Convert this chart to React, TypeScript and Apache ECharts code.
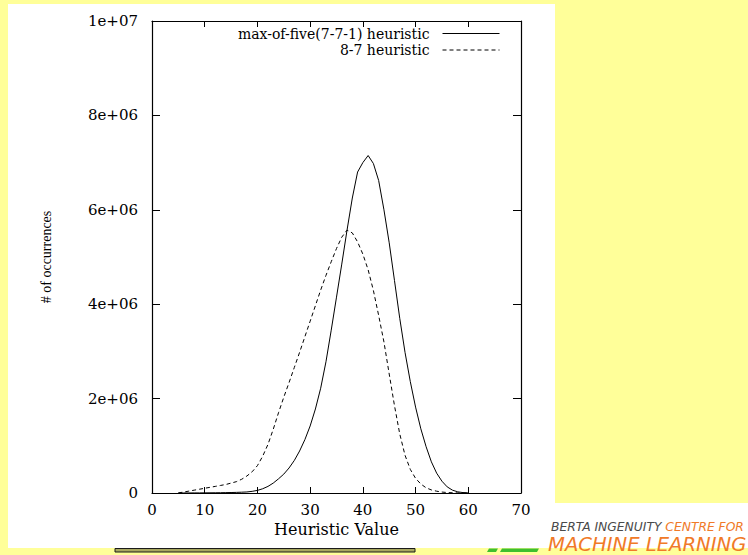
import React, { useEffect, useRef } from "react";
import * as echarts from "echarts";

// Heuristic values (x) and number of occurrences for each heuristic
const heuristicValues = [
  5, 6, 7, 8, 9, 10, 11, 12, 13, 14, 15, 16, 17, 18, 19, 20, 21, 22, 23, 24,
  25, 26, 27, 28, 29, 30, 31, 32, 33, 34, 35, 36, 37, 38, 39, 40, 41, 42, 43, 44,
  45, 46, 47, 48, 49, 50, 51, 52, 53, 54, 55, 56, 57, 58, 59, 60,
];

const maxOfFive = [
  0, 1000, 1000, 2000, 2000, 3000, 4000, 5000, 6000, 8000,
  10000, 13000, 17000, 22000, 35000, 55000, 90000, 140000, 210000, 300000,
  400000, 530000, 690000, 890000, 1130000, 1420000, 1780000, 2220000, 2780000, 3450000,
  4150000, 4850000, 5570000, 6250000, 6800000, 7000000, 7150000, 6980000, 6620000, 6000000,
  5300000, 4500000, 3700000, 2980000, 2360000, 1820000, 1360000, 980000, 660000, 420000,
  250000, 130000, 60000, 25000, 8000, 2000,
];

const eightSeven = [
  2000, 20000, 40000, 60000, 80000, 100000, 120000, 140000, 160000, 180000,
  210000, 240000, 290000, 360000, 450000, 580000, 780000, 1030000, 1350000, 1700000,
  2030000, 2340000, 2660000, 2980000, 3310000, 3640000, 3970000, 4300000, 4610000, 4900000,
  5180000, 5420000, 5570000, 5510000, 5320000, 5060000, 4730000, 4290000, 3760000, 3200000,
  2520000, 1850000, 1250000, 800000, 500000, 310000, 190000, 110000, 65000, 38000,
  20000, 10000, 5000, 2000, 1000, 0,
];

const seriesNames = ["max-of-five(7-7-1) heuristic", "8-7 heuristic"];
const yTickLabels = ["0", "2e+06", "4e+06", "6e+06", "8e+06", "1e+07"];

const SERIF = "'DejaVu Serif', serif";
const LOGO_FONT = "'DejaVu Sans', sans-serif";

export default function App() {
  const ref = useRef<HTMLDivElement>(null);

  useEffect(() => {
    if (!ref.current) return;
    const chart = echarts.init(ref.current, undefined, { renderer: "svg" });

    const axisLine = { show: true, onZero: false, lineStyle: { color: "#000", width: 1.2 } };
    const tickStyle = { color: "#000", width: 1 };

    const legendBase = {
      right: 248,
      padding: 0,
      align: "right" as const,
      itemWidth: 57,
      itemHeight: 12,
      selectedMode: false,
      itemStyle: { opacity: 0 },
      lineStyle: { width: 1 },
      textStyle: {
        fontFamily: SERIF,
        fontSize: 14,
        lineHeight: 12,
        color: "#000",
        padding: [0, 8, 0, 0],
      },
    };

    chart.setOption({
      animation: false,
      backgroundColor: "#ffff99",
      grid: { left: 152, top: 21, right: 227, bottom: 62, show: false },
      legend: [
        { ...legendBase, top: 26.5, data: [seriesNames[0]] },
        { ...legendBase, top: 43, data: [seriesNames[1]] },
      ],
      xAxis: [
        {
          type: "value",
          position: "bottom",
          min: 0,
          max: 70,
          interval: 10,
          axisLine,
          axisTick: { show: true, inside: true, length: 6, lineStyle: tickStyle },
          axisLabel: { fontFamily: SERIF, fontSize: 15, color: "#000", margin: 9 },
          splitLine: { show: false },
          name: "Heuristic Value",
          nameLocation: "middle",
          nameGap: 27,
          nameTextStyle: { fontFamily: SERIF, fontSize: 16, color: "#000" },
        },
        {
          type: "value",
          position: "top",
          min: 0,
          max: 70,
          interval: 10,
          axisLine,
          axisTick: { show: true, inside: true, length: 6, lineStyle: tickStyle },
          axisLabel: { show: false },
          splitLine: { show: false },
        },
      ],
      yAxis: [
        {
          type: "value",
          position: "left",
          min: 0,
          max: 10000000,
          interval: 2000000,
          axisLine,
          axisTick: { show: true, inside: true, length: 8, lineStyle: tickStyle },
          axisLabel: {
            fontFamily: SERIF,
            fontSize: 15,
            color: "#000",
            margin: 14,
            formatter: (v: number) => yTickLabels[Math.round(v / 2000000)],
          },
          splitLine: { show: false },
          name: "# of occurrences",
          nameLocation: "middle",
          nameRotate: 90,
          nameGap: 99,
          nameTextStyle: { fontFamily: "'Liberation Serif', serif", fontSize: 14, color: "#000" },
        },
        {
          type: "value",
          position: "right",
          min: 0,
          max: 10000000,
          interval: 2000000,
          axisLine,
          axisTick: { show: true, inside: true, length: 8, lineStyle: tickStyle },
          axisLabel: { show: false },
          splitLine: { show: false },
        },
      ],
      series: [
        {
          name: seriesNames[0],
          type: "line",
          symbol: "none",
          data: heuristicValues.map((x, i) => [x, maxOfFive[i]]),
          lineStyle: { color: "#000", width: 1 },
          itemStyle: { color: "#000" },
        },
        {
          name: seriesNames[1],
          type: "line",
          symbol: "none",
          data: heuristicValues.map((x, i) => [x, eightSeven[i]]),
          lineStyle: { color: "#000", width: 1, type: [4, 3] },
          itemStyle: { color: "#000" },
        },
      ],
      graphic: [
        { type: "rect", z: -10, shape: { x: 8, y: 4, width: 547, height: 544 }, style: { fill: "#fff" } },
        { type: "rect", z: -10, shape: { x: 487, y: 503, width: 261, height: 45 }, style: { fill: "#fff" } },
        {
          type: "rect",
          z: -5,
          shape: { x: 115, y: 548.5, width: 300, height: 3.5 },
          style: { fill: "#a8a860", stroke: "#1a1a1a", lineWidth: 1 },
        },
        {
          type: "polygon",
          z: -5,
          shape: { points: [[489, 548.5], [498, 548.5], [496, 552], [487, 552]] },
          style: { fill: "#3fbf2f" },
        },
        {
          type: "polygon",
          z: -5,
          shape: { points: [[502, 548.5], [539, 548.5], [537, 552], [500, 552]] },
          style: { fill: "#3fbf2f" },
        },
        {
          type: "text",
          z: 5,
          x: 551,
          y: 527,
          style: {
            text: "{g|BERTA INGENUITY} {o|CENTRE FOR}",
            verticalAlign: "middle",
            fontSize: 12.3,
            lineHeight: 12,
            fontStyle: "italic",
            fontFamily: LOGO_FONT,
            rich: {
              g: { fill: "#4a4a4a", fontSize: 12.3, lineHeight: 12, fontStyle: "italic", fontFamily: LOGO_FONT },
              o: { fill: "#f07a28", fontSize: 12.3, lineHeight: 12, fontStyle: "italic", fontFamily: LOGO_FONT },
            },
          },
        },
        {
          type: "text",
          z: 5,
          x: 548,
          y: 544,
          style: {
            text: "MACHINE LEARNING",
            verticalAlign: "middle",
            fill: "#f07a28",
            fontSize: 19.6,
            lineHeight: 18,
            fontStyle: "italic",
            fontFamily: LOGO_FONT,
          },
        },
      ],
    });

    return () => chart.dispose();
  }, []);

  return (
    <div
      ref={ref}
      style={{ position: "absolute", left: 0, top: 0, width: 748, height: 555 }}
    />
  );
}
